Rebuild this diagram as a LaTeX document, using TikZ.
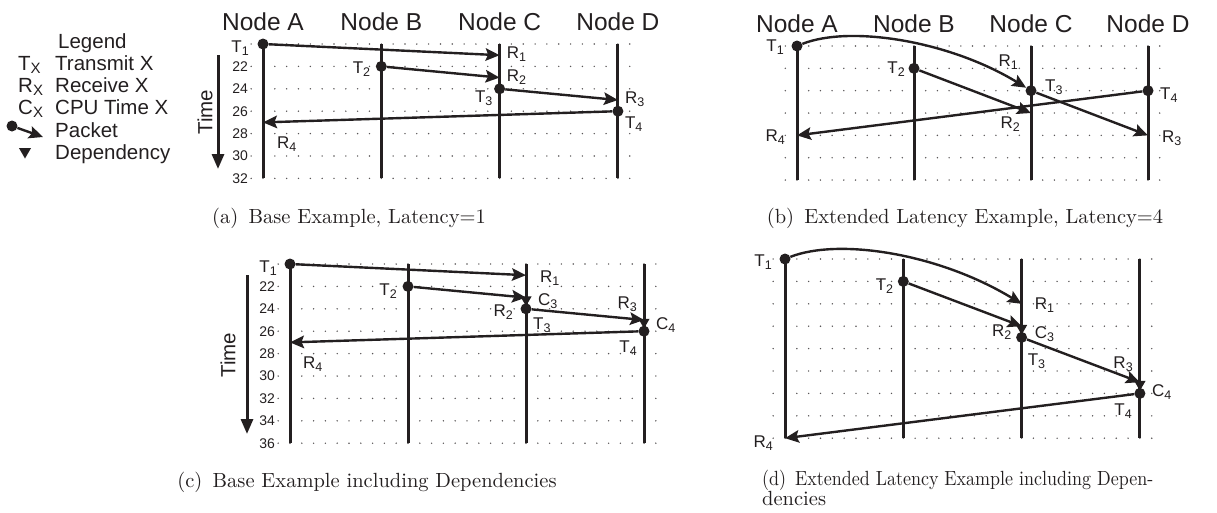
\documentclass[tikz,border=0pt]{standalone}
\usepackage{fontspec}
\usepackage{graphicx}
\newfontfamily\arial{Liberation Sans}
\newfontfamily\capfont{lmroman10-regular}[Extension=.otf]
\usetikzlibrary{arrows.meta,shapes.geometric}
\definecolor{inkc}{RGB}{35,31,32}
% event label: letter with a lowered index
\newcommand\ev[2]{#1\raisebox{-3pt}{\fontsize{12.5}{12.5}\selectfont#2}}
% legend symbol with a lowered index
\newcommand\lgsub[2]{#1\raisebox{-3pt}{\fontsize{15}{15}\selectfont#2}}
\tikzset{
  lifeline/.style={line width=3pt, draw=inkc},
  packet/.style={line width=2.4pt, draw=inkc, -{Stealth[length=14pt,width=12.5pt,inset=2.5pt]}},
  txdot/.style={circle, fill=inkc, inner sep=0pt, minimum size=11pt},
  deptri/.style={regular polygon, regular polygon sides=3, shape border rotate=180,
                 fill=inkc, inner sep=0pt, minimum size=13pt},
  lbl/.style={font=\arial\fontsize{17}{17}\selectfont, text=inkc, inner sep=0pt},
  hdr/.style={font=\arial\fontsize{24.5}{24.5}\selectfont, text=inkc, inner sep=0pt, anchor=base, yshift=14pt},
  numlabel/.style={font=\arial\fontsize{14}{14}\selectfont, text=inkc, inner sep=0pt, anchor=east, xshift=-3pt},
  legtext/.style={font=\arial\fontsize{20.5}{20.5}\selectfont, text=inkc, inner sep=0pt, anchor=base west},
  timetext/.style={font=\arial\fontsize{20.5}{20.5}\selectfont, text=inkc, inner sep=0pt, rotate=90},
  timearrow/.style={line width=3pt, draw=inkc, -{Triangle[length=15pt,width=12pt]}},
  captext/.style={font=\capfont\fontsize{20.5}{24}\selectfont, text=inkc, inner sep=0pt},
  gdot/.style={fill=inkc!75},
}
\begin{document}
\begin{tikzpicture}[x=1pt,y=-1pt]
\useasboundingbox (0,0) rectangle (1217,512);

% ---------------- legend ----------------
\node[legtext] (lgTitle) at (58,48) {Legend};
\node[legtext] (lgT) at (18,70) {\lgsub{T}{X}};
\node[legtext] (lgTt) at (55,70) {Transmit X};
\node[legtext] (lgR) at (18,92) {\lgsub{R}{X}};
\node[legtext] (lgRt) at (55,92) {Receive X};
\node[legtext] (lgC) at (18,114) {\lgsub{C}{X}};
\node[legtext] (lgCt) at (55,114) {CPU Time X};
\node[txdot] (lgDot) at (12,126) {};
\coordinate (lgTip) at (43,137);
\draw[packet] (lgDot) -- (lgTip);
\node[legtext] (lgPt) at (55,137) {Packet};
\node[deptri, minimum size=14pt] (lgDep) at (25,151.5) {};
\node[legtext] (lgDt) at (55,159) {Dependency};

% ---------------- time axes ----------------
\coordinate (aTimeTop) at (218,55);
\coordinate (aTimeEnd) at (218,169);
\draw[timearrow] (aTimeTop) -- (aTimeEnd);
\node[timetext] (aTime) at (205,112) {Time};
\coordinate (cTimeTop) at (247,275);
\coordinate (cTimeEnd) at (247,434);
\draw[timearrow] (cTimeTop) -- (cTimeEnd);
\node[timetext] (cTime) at (228,355) {Time};

% ---------------- (a) base example ----------------
\begin{scope}[shift={(263pt,-44pt)}, x=11.83pt, y=-11.2pt]
  \foreach \r in {0,2,...,12} \foreach \c in {-1,...,31} \fill[gdot] (\c,\r) circle[radius=0.8pt];
  \foreach \c in {0,10,20,30} \draw[lifeline] (\c,0) -- (\c,12);
  \node[hdr] (aHA) at (0,0) {Node A};
  \node[hdr] (aHB) at (10,0) {Node B};
  \node[hdr] (aHC) at (20,0) {Node C};
  \node[hdr] (aHD) at (30,0) {Node D};
  \foreach \n/\r in {22/2,24/4,26/6,28/8,30/10,32/12} \node[numlabel] (aN\n) at (-1,\r) {\n};
  \node[txdot] (aT1) at (0,0) {};
  \coordinate (aR1) at (20,1);
  \node[txdot] (aT2) at (10,2) {};
  \coordinate (aR2) at (20,3);
  \node[txdot] (aT3) at (20,4) {};
  \coordinate (aR3) at (30,5);
  \node[txdot] (aT4) at (30,6) {};
  \coordinate (aR4) at (0,7);
  \draw[packet] (aT1) -- (aR1);
  \draw[packet] (aT2) -- (aR2);
  \draw[packet] (aT3) -- (aR3);
  \draw[packet] (aT4) -- (aR4);
  \node[lbl, anchor=base east, xshift=-14pt, yshift=-8pt] (aT1l) at (aT1.center) {\ev{T}{1}};
  \node[lbl, anchor=base west, xshift=7pt, yshift=-3pt] (aR1l) at (aR1) {\ev{R}{1}};
  \node[lbl, anchor=base east, xshift=-11pt, yshift=-7pt] (aT2l) at (aT2.center) {\ev{T}{2}};
  \node[lbl, anchor=base west, xshift=7pt, yshift=-4pt] (aR2l) at (aR2) {\ev{R}{2}};
  \node[lbl, anchor=base east, xshift=-7pt, yshift=-14pt] (aT3l) at (aT3.center) {\ev{T}{3}};
  \node[lbl, anchor=base west, xshift=7pt, yshift=-3pt] (aR3l) at (aR3) {\ev{R}{3}};
  \node[lbl, anchor=base west, xshift=7pt, yshift=-17pt] (aT4l) at (aT4.center) {\ev{T}{4}};
  \node[lbl, anchor=base west, xshift=14pt, yshift=-26pt] (aR4l) at (aR4) {\ev{R}{4}};
\end{scope}

% ---------------- (b) extended latency ----------------
\begin{scope}[shift={(797pt,-46pt)}, x=11.7pt, y=-11.17pt]
  \foreach \r in {0,2,...,12} \foreach \c in {-1,...,31} \fill[gdot] (\c,\r) circle[radius=0.8pt];
  \foreach \c in {0,10,20,30} \draw[lifeline] (\c,0) -- (\c,12);
  \node[hdr] (bHA) at (0,0) {Node A};
  \node[hdr] (bHB) at (10,0) {Node B};
  \node[hdr] (bHC) at (20,0) {Node C};
  \node[hdr] (bHD) at (30,0) {Node D};
  \node[txdot] (bT1) at (0,0) {};
  \node[txdot] (bT2) at (10,2) {};
  \coordinate (bR2) at (20,6);
  \node[txdot] (bT3) at (20,4) {};
  \coordinate (bR3) at (30,8);
  \node[txdot] (bT4) at (30,4) {};
  \coordinate (bR4) at (0,8);
  \draw[packet] (bT1) .. controls +(53pt,21pt) and +(-82pt,50pt) .. (bT3);
  \draw[packet] (bT2) -- (bR2);
  \draw[packet] (bT3) -- (bR3);
  \draw[packet] (bT4) -- (bR4);
  \node[lbl, anchor=base east, xshift=-13pt, yshift=-5pt] (bT1l) at (bT1.center) {\ev{T}{1}};
  \node[lbl, anchor=base east, xshift=-9pt, yshift=-5pt] (bT2l) at (bT2.center) {\ev{T}{2}};
  \node[lbl, anchor=base east, xshift=-13pt, yshift=24pt] (bR1l) at (bT3.center) {\ev{R}{1}};
  \node[lbl, anchor=base west, xshift=14pt, yshift=-1pt] (bT3l) at (bT3.center) {\ev{T}{3}};
  \node[lbl, anchor=base west, xshift=12pt, yshift=-9pt] (bT4l) at (bT4.center) {\ev{T}{4}};
  \node[lbl, anchor=base east, xshift=-11pt, yshift=-15pt] (bR2l) at (bR2) {\ev{R}{2}};
  \node[lbl, anchor=base east, xshift=-12pt, yshift=-6pt] (bR4l) at (bR4) {\ev{R}{4}};
  \node[lbl, anchor=base west, xshift=14pt, yshift=-7pt] (bR3l) at (bR3) {\ev{R}{3}};
\end{scope}

% ---------------- (c) base example with dependencies ----------------
\begin{scope}[shift={(290pt,-264pt)}, x=11.8pt, y=-11.2pt]
  \foreach \r in {0,2,...,16} \foreach \c in {-1,...,31} \fill[gdot] (\c,\r) circle[radius=0.8pt];
  \foreach \c in {0,10,20,30} \draw[lifeline] (\c,0) -- (\c,16);
  \foreach \n/\r in {22/2,24/4,26/6,28/8,30/10,32/12,34/14,36/16} \node[numlabel] (cN\n) at (-1,\r) {\n};
  \node[txdot] (cT1) at (0,0) {};
  \coordinate (cR1) at (20,1);
  \node[txdot] (cT2) at (10,2) {};
  \coordinate (cR2) at (20,3);
  \node[deptri, yshift=-2pt] (cC3) at (20,3) {};
  \node[txdot] (cT3) at (20,4) {};
  \coordinate (cR3) at (30,5);
  \node[deptri, yshift=-2pt] (cC4) at (30,5) {};
  \node[txdot] (cT4) at (30,6) {};
  \coordinate (cR4) at (0,7);
  \draw[packet] (cT1) -- (cR1);
  \draw[packet] (cT2) -- (cR2);
  \draw[packet] (cT3) -- (cR3);
  \draw[packet] (cT4) -- (cR4);
  \node[lbl, anchor=base east, xshift=-13pt, yshift=-8pt] (cT1l) at (cT1.center) {\ev{T}{1}};
  \node[lbl, anchor=base west, xshift=14pt, yshift=-7pt] (cR1l) at (cR1) {\ev{R}{1}};
  \node[lbl, anchor=base east, xshift=-11pt, yshift=-9pt] (cT2l) at (cT2.center) {\ev{T}{2}};
  \node[lbl, anchor=base west, xshift=12pt, yshift=-8pt] (cC3l) at (cR2) {\ev{C}{3}};
  \node[lbl, anchor=base east, xshift=-13pt, yshift=-19pt] (cR2l) at (cR2) {\ev{R}{2}};
  \node[lbl, anchor=base west, xshift=7pt, yshift=-21pt] (cT3l) at (cT3.center) {\ev{T}{3}};
  \node[lbl, anchor=base east, xshift=-7pt, yshift=12pt] (cR3l) at (cR3) {\ev{R}{3}};
  \node[lbl, anchor=base west, xshift=12pt, yshift=-9pt] (cC4l) at (cR3) {\ev{C}{4}};
  \node[lbl, anchor=base east, xshift=-7pt, yshift=-21pt] (cT4l) at (cT4.center) {\ev{T}{4}};
  \node[lbl, anchor=base west, xshift=13pt, yshift=-26pt] (cR4l) at (cR4) {\ev{R}{4}};
\end{scope}

% ---------------- (d) extended latency with dependencies ----------------
\begin{scope}[shift={(785pt,-259pt)}, x=11.83pt, y=-11.2pt]
  \foreach \r in {0,2,...,16} \foreach \c in {-1,...,31} \fill[gdot] (\c,\r) circle[radius=0.8pt];
  \foreach \c in {0,10,20,30} \draw[lifeline] (\c,0) -- (\c,16);
  \node[txdot] (dT1) at (0,0) {};
  \coordinate (dR1) at (20,4);
  \node[txdot] (dT2) at (10,2) {};
  \coordinate (dR2) at (20,6);
  \node[deptri, yshift=-2pt] (dC3) at (20,6) {};
  \node[txdot] (dT3) at (20,7) {};
  \coordinate (dR3) at (30,11);
  \node[deptri, yshift=-2pt] (dC4) at (30,11) {};
  \node[txdot] (dT4) at (30,12) {};
  \coordinate (dR4) at (0,16);
  \draw[packet] (dT1) .. controls +(53pt,21pt) and +(-84pt,51pt) .. (dR1);
  \draw[packet] (dT2) -- (dR2);
  \draw[packet] (dT3) -- (dR3);
  \draw[packet] (dT4) -- (dR4);
  \node[lbl, anchor=base east, xshift=-13pt, yshift=-7pt] (dT1l) at (dT1.center) {\ev{T}{1}};
  \node[lbl, anchor=base east, xshift=-10pt, yshift=-9pt] (dT2l) at (dT2.center) {\ev{T}{2}};
  \node[lbl, anchor=base west, xshift=13pt, yshift=-6pt] (dR1l) at (dR1) {\ev{R}{1}};
  \node[lbl, anchor=base east, xshift=-10pt, yshift=-10pt] (dR2l) at (dR2) {\ev{R}{2}};
  \node[lbl, anchor=base west, xshift=13pt, yshift=-12pt] (dC3l) at (dR2) {\ev{C}{3}};
  \node[lbl, anchor=base west, xshift=6pt, yshift=-28pt] (dT3l) at (dT3.center) {\ev{T}{3}};
  \node[lbl, anchor=base east, xshift=-7pt, yshift=14pt] (dR3l) at (dR3) {\ev{R}{3}};
  \node[lbl, anchor=base west, xshift=12pt, yshift=-14pt] (dC4l) at (dR3) {\ev{C}{4}};
  \node[lbl, anchor=base east, xshift=-8pt, yshift=-22pt] (dT4l) at (dT4.center) {\ev{T}{4}};
  \node[lbl, anchor=base east, xshift=-12pt, yshift=-9pt] (dR4l) at (dR4) {\ev{R}{4}};
\end{scope}

% ---------------- captions ----------------
\node[captext, anchor=base] (capA) at (349,223) {(a)\enspace Base Example, Latency=1};
\node[captext, anchor=base] (capB) at (965,223) {(b)\enspace Extended Latency Example, Latency=4};
\node[captext, anchor=base] (capC) at (367,487) {(c)\enspace Base Example including Dependencies};
\node[captext, anchor=base west] (capD1) at (762,485)
  {\resizebox{391pt}{\height}{(d)\enspace Extended Latency Example including Depen-}};
\node[captext, anchor=base west] (capD2) at (762,505) {dencies};
\end{tikzpicture}
\end{document}
